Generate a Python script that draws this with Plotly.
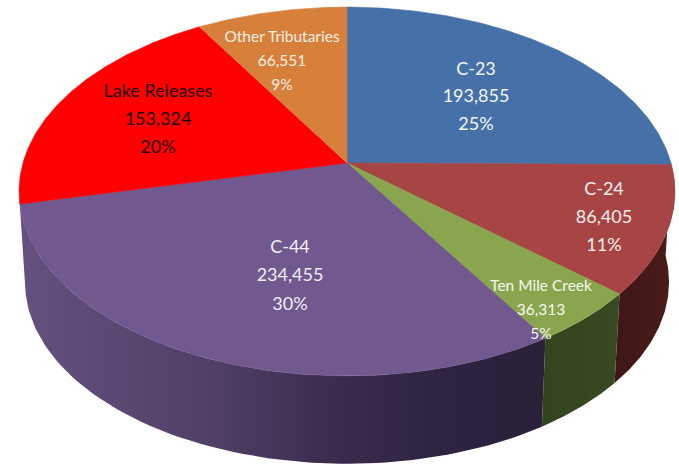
import numpy as np
import plotly.graph_objects as go

categories = ["C-23", "C-24", "Ten Mile Creek", "C-44", "Lake Releases", "Other Tributaries"]
values = [193855, 86405, 36313, 234455, 153324, 66551]

top_colors = ["#4571A8", "#A64543", "#89A54E", "#71588F", "#FF0000", "#D7803C"]
wall_scales = {
    "C-24": [[0, "#3F1716"], [1, "#4A1C1A"]],
    "Ten Mile Creek": [[0, "#33431E"], [1, "#384A21"]],
    "C-44": [[0, "#65507F"], [0.35, "#524068"], [0.6, "#3A2C4E"], [0.8, "#2E2341"], [1, "#2A2038"]],
}

# Page placement of the tilted pie (viewed in perspective)
CX, CY = 347, 163
RX, RY, K = 324, 180, 0.1545
DEPTH, BOTTOM_SCALE_X, BOTTOM_SCALE_Y = 91, 0.982, 0.985

# Label placement: centre x, first-line y, line gap, font size, colour
label_style = {
    "C-23": (476, 70, 27.5, 18, "#F4F6FA"),
    "C-24": (604, 190, 28, 18, "#F6EEEE"),
    "Ten Mile Creek": (541, 287, 24, 15.5, "#F6F8EE"),
    "C-44": (290, 248, 28.5, 18, "#F2EEF6"),
    "Lake Releases": (158, 92, 28, 18, "#200000"),
    "Other Tributaries": (282, 38, 24, 15.5, "#FBEFE4"),
}


def project_top(theta):
    u, v = np.sin(theta), np.cos(theta)
    w = 1 + K * v
    return CX + RX * u / w, CY - RY * v / w


def project_bottom(theta):
    u, v = np.sin(theta), np.cos(theta)
    w = 1 + K * v
    return CX + BOTTOM_SCALE_X * RX * u / w, CY + DEPTH - BOTTOM_SCALE_Y * RY * v / w


total = sum(values)
edges = 2 * np.pi * np.cumsum([0] + values) / total

fig = go.Figure()

# Side walls first, so the top face sits above them
for i, name in enumerate(categories):
    if name not in wall_scales:
        continue
    th = np.linspace(edges[i], edges[i + 1], 80)
    xt, yt = project_top(th)
    xb, yb = project_bottom(th[::-1])
    fig.add_trace(go.Scatter(
        x=np.r_[xt, xb], y=np.r_[yt, yb], mode="lines", fill="toself",
        line=dict(width=0), hoverinfo="skip", showlegend=False,
        fillgradient=dict(type="horizontal", colorscale=wall_scales[name]),
    ))

# Top face
for i, name in enumerate(categories):
    th = np.linspace(edges[i], edges[i + 1], 120)
    xt, yt = project_top(th)
    fig.add_trace(go.Scatter(
        x=np.r_[CX, xt, CX], y=np.r_[CY, yt, CY], mode="lines", fill="toself",
        fillcolor=top_colors[i], line=dict(width=0.6, color=top_colors[i]),
        name=name, hoverinfo="name", showlegend=False,
    ))

# Labels, one text mark per line so the line gap can follow the source
for name, val in zip(categories, values):
    x, y, gap, size, color = label_style[name]
    lines = [name, f"{val:,}", f"{round(100 * val / total)}%"]
    fig.add_trace(go.Scatter(
        x=[x] * 3, y=[y + gap * n for n in range(3)], mode="text", text=lines,
        textposition="middle center", hoverinfo="skip", showlegend=False,
        textfont=dict(family="Lato, Carlito, sans-serif", size=size, color=color),
    ))

fig.update_layout(
    width=679, height=467, autosize=False,
    margin=dict(l=0, r=0, t=0, b=0),
    paper_bgcolor="white", plot_bgcolor="white",
    xaxis=dict(range=[0, 679], visible=False, fixedrange=True),
    yaxis=dict(range=[467, 0], visible=False, fixedrange=True),
)
fig.write_html(
    "out.html",
    config={"displayModeBar": False},
    post_script="document.body.style.margin='0';document.body.style.overflow='hidden';",
)
